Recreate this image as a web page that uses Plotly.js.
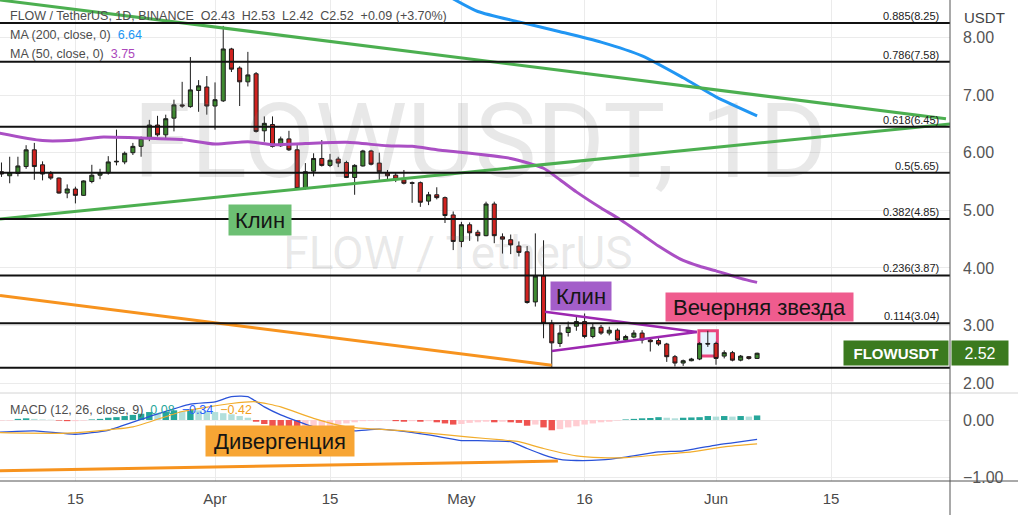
<!DOCTYPE html>
<html><head><meta charset="utf-8">
<script src="https://cdn.plot.ly/plotly-3.0.1.min.js"></script>
<style>html,body{margin:0;padding:0;background:#fff;} #chart{width:1018px;height:515px;}</style>
</head><body><div id="chart"></div>
<script>
const FONT = '"Liberation Sans", Arial, sans-serif';

// ---------- DATA ----------
const firstDay = [2022, 2, 6]; // 6 Mar 2022 (daily candles)
const opens = [5.67,5.60,5.64,5.76,6.05,5.79,5.64,5.56,5.30,5.37,
  5.26,5.50,5.61,5.65,5.84,5.84,6.00,6.11,6.25,6.48,
  6.31,6.60,6.83,6.80,7.08,7.14,6.81,6.90,7.80,7.47,
  7.23,7.37,6.38,6.49,6.12,6.24,6.05,5.38,5.68,5.90,
  5.78,5.89,5.83,5.57,5.77,6.03,5.82,5.65,5.61,5.53,
  5.48,5.48,5.16,5.27,5.22,4.92,4.46,4.75,4.62,4.56,
  5.11,4.54,4.49,4.38,4.28,3.41,3.86,3.04,2.69,2.88,
  2.99,3.07,2.81,2.97,2.87,2.92,2.75,2.80,2.87,2.75,
  2.74,2.68,2.46,2.35,2.39,2.42,2.69,2.69,2.47,2.53,
  2.40,2.46,2.43];
const highs = [5.83,5.93,5.93,6.13,6.17,5.85,5.68,5.57,5.45,5.41,
  5.52,5.79,5.72,5.94,6.40,6.02,6.17,6.28,6.57,6.64,
  6.66,6.92,7.23,7.66,7.26,7.33,7.22,8.20,7.82,7.50,
  7.75,7.40,6.63,6.63,6.28,6.38,6.14,5.82,5.99,6.22,
  5.98,5.93,5.86,5.80,6.05,6.05,6.00,5.70,5.65,5.70,
  5.50,5.50,5.32,5.40,5.24,4.98,4.80,4.79,4.66,5.15,
  5.15,4.60,4.58,4.46,4.38,4.60,4.48,3.10,3.01,3.07,
  3.15,3.21,3.04,3.01,2.98,2.95,2.84,2.92,2.92,2.80,
  2.78,2.70,2.49,2.41,2.44,2.71,2.91,2.72,2.57,2.56,
  2.49,2.47,2.53];
const lows = [5.58,5.47,5.59,5.72,5.53,5.52,5.53,5.29,5.21,5.12,
  5.25,5.47,5.54,5.62,5.78,5.80,5.96,5.93,6.20,6.28,
  6.25,6.37,6.78,6.78,6.71,6.66,6.40,6.88,7.40,6.81,
  7.15,6.35,6.19,6.09,6.10,6.03,5.36,5.36,5.59,5.76,
  5.75,5.75,5.56,5.27,5.76,5.78,5.53,5.54,5.49,5.45,
  5.13,5.06,5.09,5.19,4.78,4.31,4.36,4.47,4.46,4.55,
  4.43,4.25,4.24,4.20,3.38,3.33,2.78,2.27,2.63,2.81,
  2.91,2.78,2.78,2.84,2.83,2.73,2.73,2.78,2.69,2.55,
  2.65,2.37,2.29,2.30,2.38,2.40,2.63,2.32,2.43,2.38,
  2.38,2.41,2.42];
const closes = [5.63,5.65,5.77,6.05,5.76,5.63,5.56,5.30,5.37,5.26,
  5.51,5.61,5.65,5.84,5.85,5.99,6.11,6.25,6.48,6.31,
  6.59,6.83,6.81,7.09,7.16,6.81,6.92,7.80,7.45,7.23,
  7.35,6.37,6.51,6.11,6.24,6.05,5.38,5.67,5.90,5.78,
  5.87,5.82,5.57,5.78,6.03,5.80,5.67,5.60,5.54,5.47,
  5.47,5.14,5.27,5.22,4.91,4.46,4.75,4.61,4.56,5.11,
  4.56,4.50,4.40,4.27,3.40,3.86,3.04,2.70,2.87,2.97,
  3.07,2.81,2.97,2.87,2.92,2.75,2.81,2.87,2.75,2.72,
  2.68,2.46,2.35,2.39,2.42,2.69,2.68,2.43,2.53,2.40,
  2.47,2.43,2.52];

// MACD histogram, one value per candle
const macdHist = [-0.01,-0.01,0.02,0.03,0.02,0.01,0.005,-0.01,-0.02,-0.02,-0.01,
  0.01,0.02,0.04,0.05,0.07,0.09,0.11,0.14,0.12,0.14,0.17,0.15,0.19,
  0.17,0.16,0.14,0.12,0.10,0.07,0.04,
  -0.03,-0.07,-0.11,-0.14,-0.16,-0.20,
  -0.19,-0.17,-0.14,-0.11,-0.08,-0.06,-0.04,
  -0.02,-0.015,-0.01,-0.005,
  -0.02,-0.03,-0.02,-0.03,-0.02,
  -0.04,-0.06,-0.08,
  -0.07,-0.05,-0.04,-0.03,
  -0.04,-0.03,
  -0.04,-0.05,-0.10,-0.08,
  -0.13,-0.18,
  -0.16,-0.13,-0.11,-0.08,-0.06,-0.04,-0.03,-0.01,
  0.01,0.02,0.03,0.035,0.05,0.04,0.03,0.04,0.045,0.05,0.07,0.06,0.07,0.06,0.07,0.06,0.08];

const macdDates = ['2022-03-05','2022-03-10','2022-03-15','2022-03-19','2022-03-24','2022-03-29','2022-04-01','2022-04-03','2022-04-05','2022-04-07','2022-04-09','2022-04-13','2022-04-15','2022-04-18','2022-04-21','2022-04-27','2022-05-01','2022-05-03','2022-05-05','2022-05-07','2022-05-09','2022-05-11','2022-05-13','2022-05-15','2022-05-18','2022-05-21','2022-05-25','2022-05-28','2022-06-01','2022-06-03','2022-06-06'];
const macdLine = [-0.22,-0.19,-0.25,-0.18,0.06,0.28,0.32,0.41,0.41,0.23,0.09,-0.12,-0.15,-0.19,-0.16,-0.26,-0.36,-0.36,-0.37,-0.38,-0.50,-0.61,-0.69,-0.71,-0.70,-0.65,-0.56,-0.54,-0.44,-0.40,-0.34];
const signalDates = ['2022-03-05','2022-03-14','2022-03-22','2022-03-28','2022-04-03','2022-04-06','2022-04-09','2022-04-13','2022-04-17','2022-04-24','2022-05-02','2022-05-06','2022-05-08','2022-05-11','2022-05-15','2022-05-18','2022-05-21','2022-05-25','2022-05-29','2022-06-02','2022-06-06'];
const signalLine = [-0.22,-0.23,-0.12,0.15,0.29,0.32,0.23,0.03,-0.12,-0.19,-0.30,-0.35,-0.38,-0.50,-0.63,-0.66,-0.66,-0.61,-0.56,-0.47,-0.42];

const ma50Dates = ['2022-03-05','2022-03-11','2022-03-15','2022-03-18','2022-03-24','2022-03-28','2022-04-01','2022-04-05','2022-04-08','2022-04-12','2022-04-17','2022-04-22','2022-04-25','2022-04-28','2022-04-30','2022-05-07','2022-05-11','2022-05-13','2022-05-15','2022-05-18','2022-05-20','2022-05-23','2022-05-25','2022-05-28','2022-05-30','2022-06-01','2022-06-04','2022-06-06'];
const ma50 = [6.36,6.21,6.22,6.27,6.25,6.23,6.15,6.19,6.14,6.16,6.18,6.12,6.11,6.05,6.02,5.90,5.73,5.53,5.32,5.04,4.87,4.58,4.38,4.13,4.03,3.95,3.82,3.75];
const ma200Dates = ['2022-04-29','2022-05-03','2022-05-08','2022-05-13','2022-05-18','2022-05-23','2022-05-28','2022-06-01','2022-06-06'];
const ma200 = [8.75,8.45,8.27,8.10,7.92,7.68,7.30,6.97,6.64];

const fibLevels = ['0.885','0.786','0.618','0.5','0.382','0.236','0.114','0'];
const fibPrices = [8.25,7.58,6.45,5.65,4.85,3.87,3.04,2.27];

// drawings (trend lines): endpoints [date, value]
const wedgeUpperDates = ['2022-03-05 19:40','2022-06-29 00:00'];  const wedgeUpper = [8.65,6.59];
const wedgeLowerDates = ['2022-03-05 19:40','2022-06-29 12:00'];  const wedgeLower = [4.85,6.50];
const supportDates = ['2022-03-05 19:40','2022-05-12 00:00'];     const support = [3.52,2.31];
const flagUpperDates = ['2022-05-11 04:00','2022-05-29 16:00'];   const flagUpper = [3.24,2.89];
const flagLowerDates = ['2022-05-12 00:00','2022-05-29 16:00'];   const flagLower = [2.56,2.89];
const macdDivDates = ['2022-03-05 19:40','2022-05-12 18:00'];     const macdDiv = [-0.89,-0.72];
const starBoxDates = ['2022-05-29 22:00','2022-06-01 04:00'];     const starBox = [2.47,2.91];

const labelTexts = ['Клин','Клин','Вечерняя звезда','Дивергенция'];
const labelDates = ['2022-04-06 11:30','2022-05-15 13:00','2022-06-06 08:00','2022-04-08 22:00'];
const labelValues = [4.83,3.52,3.32,-0.37];
const labelAxes = ['y','y','y','y2'];
const labelColors = ['#6cbf73','#a35ec9','#ef5c8e','#f7a534'];
const labelSizes = [[62,30],[60,28],[187,28],[148,30]];

const xTickVals = ['2022-03-15','2022-04-01','2022-04-15','2022-05-01','2022-05-16','2022-06-01','2022-06-15'];
const xTickText = ['15','Apr','15','May','16','Jun','15'];
const priceTicks = [2,3,4,5,6,7,8];

// ---------- BUILD ----------
const dates = opens.map((_, i) => new Date(Date.UTC(firstDay[0], firstDay[1], firstDay[2] + i)).toISOString().slice(0, 10));
const n = closes.length;
const lastClose = closes[n-1], prevClose = closes[n-2];

const histColors = macdHist.map((v, i) => {
  const p = i > 0 ? macdHist[i-1] : v;
  if (v >= 0) return v > p ? '#26a69a' : '#b2dfdb';
  return v < p ? '#ef5350' : '#ffcdd2';
});

const DAY = 86400000;
const traces = [
  {type:'scatter', mode:'text', x:['2022-05-03 07:00'], y:[6.03], text:['FLOWUSDT, 1D'], textposition:'middle center',
   textfont:{family:'Roboto, sans-serif', size:104, color:'rgba(120,120,120,0.17)'}, hoverinfo:'skip', cliponaxis:false},
  {type:'scatter', mode:'text', x:['2022-04-30 14:00'], y:[4.18], text:['FLOW / TetherUS'], textposition:'middle center',
   textfont:{family:'Roboto, sans-serif', size:46, color:'rgba(120,120,120,0.17)'}, hoverinfo:'skip', cliponaxis:false},
  {type:'candlestick', x:dates, open:opens, high:highs, low:lows, close:closes, xaxis:'x', yaxis:'y',
   increasing:{line:{color:'#1c1c1c', width:1}, fillcolor:'#3f8a31'},
   decreasing:{line:{color:'#1c1c1c', width:1}, fillcolor:'#d0221f'},
   whiskerwidth:0, hoverinfo:'none'},
  {type:'scatter', mode:'lines', x:ma50Dates, y:ma50, line:{color:'#aa4fc4', width:3, shape:'spline', smoothing:0.6}, hoverinfo:'skip'},
  {type:'scatter', mode:'lines', x:ma200Dates, y:ma200, line:{color:'#2196f3', width:3, shape:'spline', smoothing:0.6}, hoverinfo:'skip'},
  {type:'scatter', mode:'lines', x:wedgeUpperDates, y:wedgeUpper, line:{color:'#4caf50', width:3}, hoverinfo:'skip'},
  {type:'scatter', mode:'lines', x:wedgeLowerDates, y:wedgeLower, line:{color:'#4caf50', width:3}, hoverinfo:'skip'},
  {type:'scatter', mode:'lines', x:supportDates, y:support, line:{color:'#f7931e', width:3}, hoverinfo:'skip'},
  {type:'scatter', mode:'lines', x:flagUpperDates, y:flagUpper, line:{color:'#9c27b0', width:2.5}, hoverinfo:'skip'},
  {type:'scatter', mode:'lines', x:flagLowerDates, y:flagLower, line:{color:'#9c27b0', width:2.5}, hoverinfo:'skip'},
  {type:'bar', x:dates, y:macdHist, marker:{color:histColors, line:{width:0}}, width:0.78*DAY, xaxis:'x', yaxis:'y2', hoverinfo:'skip'},
  {type:'scatter', mode:'lines', x:macdDates, y:macdLine, xaxis:'x', yaxis:'y2', line:{color:'#2a52d8', width:1.3, shape:'spline', smoothing:0.5}, hoverinfo:'skip'},
  {type:'scatter', mode:'lines', x:signalDates, y:signalLine, xaxis:'x', yaxis:'y2', line:{color:'#f2ad2c', width:1.2, shape:'spline', smoothing:0.5}, hoverinfo:'skip'},
  {type:'scatter', mode:'lines', x:macdDivDates, y:macdDiv, xaxis:'x', yaxis:'y2', line:{color:'#f7931e', width:3}, hoverinfo:'skip'}
];
traces.forEach(t => { t.showlegend = false; });

const PANE = 88/481;
const shapes = [];
fibPrices.forEach(p => shapes.push({type:'line', xref:'paper', x0:0, x1:1, yref:'y', y0:p, y1:p, line:{color:'#111', width:2}, layer:'above'}));
shapes.push({type:'rect', xref:'x', yref:'y', x0:starBoxDates[0], x1:starBoxDates[1], y0:starBox[0], y1:starBox[1],
  line:{color:'#e8457e', width:3}, fillcolor:'rgba(187,222,251,0.35)', layer:'between'});
shapes.push({type:'line', xref:'paper', yref:'paper', x0:0, x1:1.075, y0:PANE, y1:PANE, line:{color:'#d4d4d4', width:1}, layer:'above'});
shapes.push({type:'line', xref:'paper', yref:'paper', x0:0, x1:1.075, y0:0, y1:0, line:{color:'#555', width:1}, layer:'above'});
shapes.push({type:'line', xref:'paper', yref:'paper', x0:1, x1:1, y0:-34/481, y1:1, line:{color:'#555', width:1}, layer:'above'});

const NB = '\u00a0';
const pct = ((lastClose - prevClose) / prevClose * 100).toFixed(2);
const chg = (lastClose - prevClose).toFixed(2);
const headerText = 'FLOW / TetherUS, 1D, BINANCE' + NB+NB + 'O' + opens[n-1].toFixed(2) + NB+NB + 'H' + highs[n-1].toFixed(2) + NB+NB +
  'L' + lows[n-1].toFixed(2) + NB+NB + 'C' + lastClose.toFixed(2) + NB+NB + '+' + chg + ' (+' + pct + '%)';
const fmt = v => (v < 0 ? '\u2212' : '') + Math.abs(v).toFixed(2);

const ann = [];
function topText(text, yshift, size) {
  ann.push({xref:'paper', yref:'paper', x:0, y:1, xanchor:'left', yanchor:'middle', xshift:8, yshift:-yshift,
    text:text, showarrow:false, font:{family:FONT, size:size||12.5, color:'#4d4d4d'}});
}
topText(headerText, 16);
topText('MA (200, close, 0)' + NB+NB + '<span style="color:#2196f3">' + ma200[ma200.length-1].toFixed(2) + '</span>', 35);
topText('MA (50, close, 0)' + NB+NB + '<span style="color:#ab47bc">' + ma50[ma50.length-1].toFixed(2) + '</span>', 54);
topText('MACD (12, 26, close, 9)' + NB+NB + '<span style="color:#26a69a">' + fmt(macdHist[n-1]) + '</span>' + NB+NB +
  '<span style="color:#2962ff">' + fmt(macdLine[macdLine.length-1]) + '</span>' + NB+NB +
  '<span style="color:#f2a020">' + fmt(signalLine[signalLine.length-1]) + '</span>', 410);

ann.push({xref:'paper', yref:'paper', x:1, y:1, xanchor:'left', yanchor:'middle', xshift:12, yshift:-17, text:'USDT',
  showarrow:false, font:{family:FONT, size:15, color:'#444'}});

// the level-0 label sits under the price tag in the chart, so only the other levels are labelled
fibLevels.forEach((lv, i) => {
  if (lv === '0') return;
  ann.push({xref:'paper', x:1, xanchor:'right', xshift:-9, yref:'y', y:fibPrices[i], yanchor:'bottom', yshift:-1,
    text: lv + '(' + fibPrices[i].toFixed(2) + ')', showarrow:false, font:{family:FONT, size:11, color:'#222'}});
});

labelTexts.forEach((t, i) => ann.push({xref:'x', yref:labelAxes[i], x:labelDates[i], y:labelValues[i], xanchor:'center', yanchor:'middle',
  text:t, showarrow:false, bgcolor:labelColors[i], width:labelSizes[i][0], height:labelSizes[i][1], borderpad:0,
  font:{family:FONT, size:22, color:'#151515'}}));

ann.push({xref:'paper', x:1, xanchor:'right', xshift:-1, yref:'y', y:lastClose, yanchor:'middle', text:'<b>FLOWUSDT</b>',
  width:104, height:24, bgcolor:'#3b7a1f', borderpad:0, showarrow:false, font:{family:FONT, size:15, color:'#fff'}});
ann.push({xref:'paper', x:1, xanchor:'left', xshift:1, yref:'y', y:lastClose, yanchor:'middle', text:lastClose.toFixed(2),
  width:56, height:24, bgcolor:'#3b7a1f', borderpad:0, showarrow:false, font:{family:FONT, size:16, color:'#fff'}});

const layout = {
  width:1018, height:515, margin:{l:0, r:68, t:0, b:34, pad:0},
  paper_bgcolor:'#fff', plot_bgcolor:'#fff', showlegend:false, bargap:0.2, dragmode:false,
  xaxis:{type:'date', range:['2022-03-05 19:40','2022-06-29 11:45'], rangeslider:{visible:false},
    tickmode:'array', tickvals:xTickVals, ticktext:xTickText, showgrid:true, gridcolor:'#ebebeb', gridwidth:1,
    zeroline:false, showline:false, ticks:'', ticklabelstandoff:7, tickfont:{family:FONT, size:15, color:'#4a4a4a'},
    anchor:'y2', fixedrange:true},
  yaxis:{domain:[PANE, 1], range:[1.83, 8.65], side:'right', anchor:'x', tickmode:'array', tickvals:priceTicks,
    ticktext:priceTicks.map(v => v.toFixed(2)), showgrid:true, gridcolor:'#ebebeb', zeroline:false, showline:false, ticks:'',
    ticklabelstandoff:12, tickfont:{family:FONT, size:16, color:'#555'}, fixedrange:true},
  yaxis2:{domain:[0, PANE], range:[-1.07, 0.474], side:'right', anchor:'x', tickmode:'array', tickvals:[0,-1],
    ticktext:['0.00','\u22121.00'], showgrid:true, gridcolor:'#ebebeb', zeroline:false, showline:false, ticks:'',
    ticklabelstandoff:12, tickfont:{family:FONT, size:16, color:'#555'}, fixedrange:true},
  shapes:shapes, annotations:ann
};

Plotly.newPlot('chart', traces, layout, {displayModeBar:false, staticPlot:true});
</script></body></html>
